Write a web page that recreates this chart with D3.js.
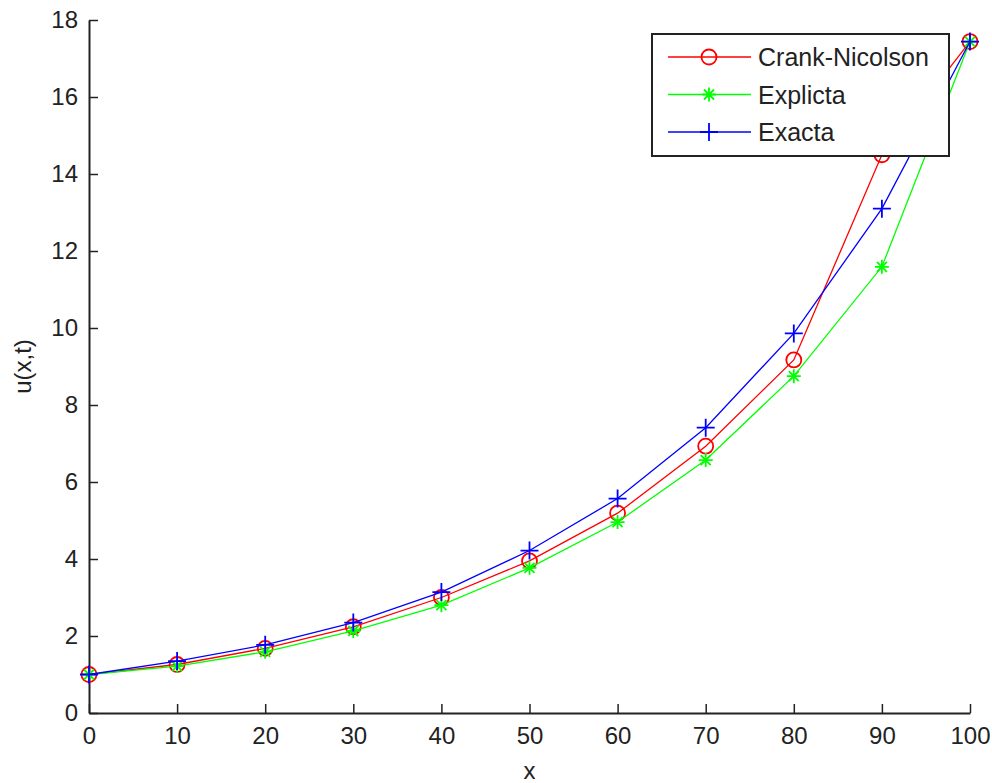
<!DOCTYPE html>
<html>
<head>
<meta charset="utf-8">
<script src="https://cdn.jsdelivr.net/npm/d3@7"></script>
<style>
  body { margin: 0; background: #fff; }
  svg text { font-family: "Liberation Sans", Arial, sans-serif; fill: #222; }
</style>
</head>
<body>
<div id="chart"></div>
<script>
// values
var xs = [0, 10, 20, 30, 40, 50, 60, 70, 80, 90, 100];
var crankNicolson = [1.00, 1.26, 1.68, 2.24, 3.00, 3.95, 5.19, 6.93, 9.17, 14.50, 17.44];
var explicita = [1.00, 1.22, 1.59, 2.13, 2.80, 3.77, 4.96, 6.57, 8.75, 11.59, 17.44];
var exacta = [1.00, 1.35, 1.77, 2.35, 3.14, 4.22, 5.57, 7.41, 9.86, 13.10, 17.44];
var xTicks = [0, 10, 20, 30, 40, 50, 60, 70, 80, 90, 100];
var yTicks = [0, 2, 4, 6, 8, 10, 12, 14, 16, 18];
var seriesNames = ["Crank-Nicolson", "Explicta", "Exacta"];

function init() {
    var w = 992;
    var h = 783;
    var left = 89, right = 970, top = 20, bottom = 713;

    var svg = d3.select("#chart")
        .append("svg")
        .attr("width", w)
        .attr("height", h);

    var x = d3.scaleLinear().domain([0, 100]).range([left, right]);
    var y = d3.scaleLinear().domain([0, 18]).range([bottom, top]);

    var series = [
        { name: seriesNames[0], values: crankNicolson, color: "#ff0000", marker: "circle" },
        { name: seriesNames[1], values: explicita, color: "#00ff00", marker: "star" },
        { name: seriesNames[2], values: exacta, color: "#0000ff", marker: "plus" }
    ];

    // marker shapes, drawn around (0,0)
    function markerPath(type) {
        if (type == "circle") {
            return d3.symbol().type(d3.symbolCircle).size(Math.PI * 7.5 * 7.5)();
        }
        if (type == "plus") {
            return "M-9,0H9M0,-9V9";
        }
        // asterisk
        return "M-7,0H7M0,-7V7M-5,-5L5,5M-5,5L5,-5";
    }

    // x axis
    var xAxis = d3.axisBottom(x)
        .tickValues(xTicks)
        .tickSizeInner(-9)
        .tickSizeOuter(0)
        .tickPadding(13);
    var gx = svg.append("g")
        .attr("transform", "translate(0," + bottom + ")")
        .call(xAxis);
    gx.selectAll("text").attr("font-size", 24).attr("dy", "0.75em");

    // y axis
    var yAxis = d3.axisLeft(y)
        .tickValues(yTicks)
        .tickSizeInner(-9)
        .tickSizeOuter(0)
        .tickPadding(11);
    var gy = svg.append("g")
        .attr("transform", "translate(" + left + ",0)")
        .call(yAxis);
    gy.selectAll("text").attr("font-size", 24);

    svg.selectAll(".domain").attr("stroke", "#222").attr("stroke-width", 2);
    svg.selectAll(".tick line").attr("stroke", "#222").attr("stroke-width", 1.5);
    svg.selectAll(".tick text").style("fill", "#222").attr("font-family", "Liberation Sans, Arial, sans-serif");

    // axis titles
    svg.append("text")
        .text("x")
        .attr("x", (left + right) / 2)
        .attr("y", 779)
        .attr("text-anchor", "middle")
        .attr("font-size", 24);

    svg.append("text")
        .text("u(x,t)")
        .attr("transform", "translate(31," + (top + bottom) / 2 + ") rotate(-90)")
        .attr("text-anchor", "middle")
        .attr("font-size", 24);

    // lines and markers
    var line = d3.line()
        .x(function(d, i) { return x(xs[i]); })
        .y(function(d) { return y(d); });

    series.forEach(function(s) {
        svg.append("path")
            .datum(s.values)
            .attr("d", line)
            .attr("fill", "none")
            .attr("stroke", s.color)
            .attr("stroke-width", 1.3);

        svg.selectAll(".m-" + s.marker)
            .data(s.values)
            .enter()
            .append("path")
            .attr("class", "m-" + s.marker)
            .attr("d", markerPath(s.marker))
            .attr("transform", function(d, i) {
                return "translate(" + x(xs[i]) + "," + y(d) + ")";
            })
            .attr("fill", "none")
            .attr("stroke", s.color)
            .attr("stroke-width", 1.8);
    });

    // legend
    var lg = svg.append("g");
    lg.append("rect")
        .attr("x", 652)
        .attr("y", 34)
        .attr("width", 297)
        .attr("height", 122)
        .attr("fill", "#fff")
        .attr("stroke", "#222")
        .attr("stroke-width", 2);

    var rows = lg.selectAll(".row")
        .data(series)
        .enter()
        .append("g")
        .attr("class", "row")
        .attr("transform", function(d, i) {
            return "translate(0," + (57 + i * 37.5) + ")";
        });

    rows.append("line")
        .attr("x1", 668)
        .attr("x2", 751)
        .attr("y1", 0)
        .attr("y2", 0)
        .attr("stroke", function(d) { return d.color; })
        .attr("stroke-width", 1.5);

    rows.append("path")
        .attr("d", function(d) { return markerPath(d.marker); })
        .attr("transform", "translate(709,0)")
        .attr("fill", "none")
        .attr("stroke", function(d) { return d.color; })
        .attr("stroke-width", 1.8);

    rows.append("text")
        .text(function(d) { return d.name; })
        .attr("x", 758)
        .attr("y", 0)
        .attr("dy", "0.36em")
        .attr("font-size", 25);
}

window.onload = init;
</script>
</body>
</html>
